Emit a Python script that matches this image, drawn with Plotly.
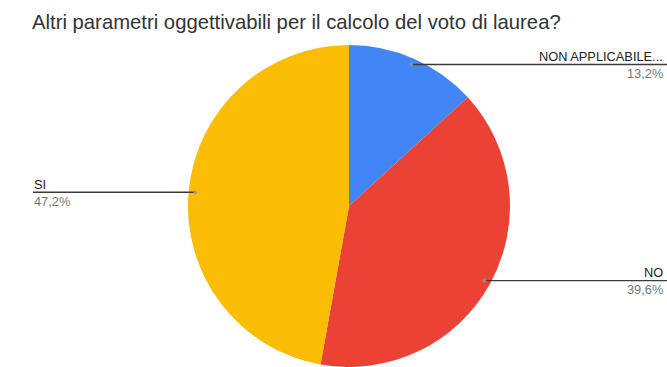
import math
import plotly.graph_objects as go

# Survey answers (number of respondents)
labels = ["NON APPLICABILE...", "NO", "SI"]
counts = [7, 21, 25]
colors = ["#4285F4", "#EA4335", "#FBBC04"]

title_text = "Altri parametri oggettivabili per il calcolo del voto di laurea?"

W, H = 667, 367
CX, CY, R = 349, 206, 161  # pie centre and radius in pixels

total = sum(counts)
shares = [c / total * 100 for c in counts]

fig = go.Figure(
    go.Pie(
        labels=labels,
        values=counts,
        marker=dict(colors=colors, line=dict(width=0)),
        sort=False,
        direction="clockwise",
        rotation=0,
        textinfo="none",
        hole=0,
        domain=dict(x=[(CX - R) / W, (CX + R) / W], y=[0, 1 - (CY - R) / H]),
    )
)


def px(x):
    return x / W


def py(y):
    return 1 - y / H


shapes = []
annotations = []
cum = 0.0
for lab, share in zip(labels, shares):
    mid = (cum + share / 2) / 100 * 2 * math.pi
    cum += share
    dx, dy = CX + 0.96 * R * math.sin(mid), CY - 0.96 * R * math.cos(mid)
    pct = f"{share:.1f}%".replace(".", ",")
    right = math.sin(mid) > 0
    x_end = W if right else 33
    shapes.append(dict(type="line", xref="paper", yref="paper",
                       x0=px(dx), x1=px(x_end), y0=py(dy), y1=py(dy),
                       line=dict(color="#3a3a3a", width=1.4)))
    shapes.append(dict(type="circle", xref="paper", yref="paper",
                       x0=px(dx - 2), x1=px(dx + 2), y0=py(dy - 2), y1=py(dy + 2),
                       fillcolor="rgba(150,150,150,0.8)", line=dict(width=0)))
    tx = 665 if right else 32
    anchor = "right" if right else "left"
    annotations.append(dict(text=lab, xref="paper", yref="paper", x=px(tx), y=py(dy - 8),
                            xanchor=anchor, yanchor="middle", showarrow=False,
                            font=dict(family="Liberation Sans, Arial", size=12.8, color="#222222")))
    annotations.append(dict(text=pct, xref="paper", yref="paper", x=px(tx), y=py(dy + 9),
                            xanchor=anchor, yanchor="middle", showarrow=False,
                            font=dict(family="Liberation Sans, Arial", size=12.8, color="#777777")))

fig.update_layout(
    width=W,
    height=H,
    margin=dict(l=0, r=0, t=0, b=0),
    paper_bgcolor="white",
    plot_bgcolor="white",
    showlegend=False,
    separators=",.",
    title=dict(text=title_text, x=32 / W, xanchor="left", xref="paper",
               y=1 - 22 / H, yanchor="middle", yref="container",
               font=dict(family="Liberation Sans, Arial", size=20.3, color="#333333")),
    shapes=shapes,
    annotations=annotations,
)

fig.write_html("out.html")
